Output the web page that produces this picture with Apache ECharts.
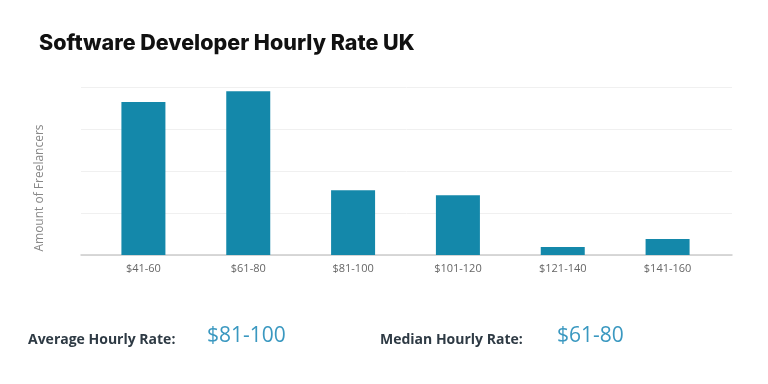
<!DOCTYPE html>
<html><head><meta charset="utf-8">
<script src="https://cdn.jsdelivr.net/npm/echarts@6/dist/echarts.min.js"></script>
<style>html,body{margin:0;padding:0;background:#fff}#c{width:768px;height:384px}</style>
</head><body><div id="c"></div>
<script>
const categories = ['$41-60','$61-80','$81-100','$101-120','$121-140','$141-160'];
const freelancers = [91, 97.5, 38.5, 35.5, 4.8, 9.5];
const yTicks = [0, 25, 50, 75, 100];
const titleText = 'Software Developer Hourly Rate UK';
const yAxisName = 'Amount of Freelancers';
const avgLabel = 'Average Hourly Rate:', avgValue = '$81-100';
const medLabel = 'Median Hourly Rate:', medValue = '$61-80';

const chart = echarts.init(document.getElementById('c'));
const font = '"Open Sans", sans-serif';
chart.setOption({
  animation: false,
  title: { text: titleText, left: 34, top: 28, textStyle: { fontFamily: 'Inter, sans-serif', fontWeight: 800, fontSize: 21.5, color: '#111' } },
  grid: [
    { left: 81, right: 36, top: 87, bottom: 129 },
    { left: 91, width: 629, top: 87, bottom: 129 }
  ],
  xAxis: [
    { type: 'category', gridIndex: 0, data: categories, axisLine: { lineStyle: { color: '#ccc', width: 1.5 } }, axisTick: { show: false }, axisLabel: { show: false } },
    { type: 'category', gridIndex: 1, data: categories, axisLine: { show: false }, axisTick: { show: false },
      axisLabel: { color: '#666', fontSize: 11, fontFamily: font, margin: 8 } }
  ],
  yAxis: [
    { type: 'value', gridIndex: 0, min: yTicks[0], max: yTicks[yTicks.length-1], interval: 25,
      axisLabel: { show: false }, axisLine: { show: false }, axisTick: { show: false },
      splitLine: { lineStyle: { color: '#f0f0f0' } } },
    { type: 'value', gridIndex: 1, min: 0, max: 100, show: false }
  ],
  series: [{ type: 'bar', xAxisIndex: 1, yAxisIndex: 1, data: freelancers, barWidth: 44, itemStyle: { color: '#1488aa' } }],
  graphic: [
    { type: 'text', x: 40, y: 188, rotation: Math.PI / 2, style: { text: yAxisName, fontFamily: font, fontSize: 12, fill: '#888', align: 'center', verticalAlign: 'middle' } },
    { type: 'text', left: 28, top: 333, style: { text: avgLabel, fontFamily: font, fontWeight: 'bold', fontSize: 14, fill: '#2e3a44' } },
    { type: 'text', left: 207, top: 326, style: { text: avgValue, fontFamily: font, fontSize: 21, fill: '#3a98c0' } },
    { type: 'text', left: 380, top: 333, style: { text: medLabel, fontFamily: font, fontWeight: 'bold', fontSize: 14, fill: '#2e3a44' } },
    { type: 'text', left: 557, top: 326, style: { text: medValue, fontFamily: font, fontSize: 21, fill: '#3a98c0' } }
  ]
});
</script></body></html>
